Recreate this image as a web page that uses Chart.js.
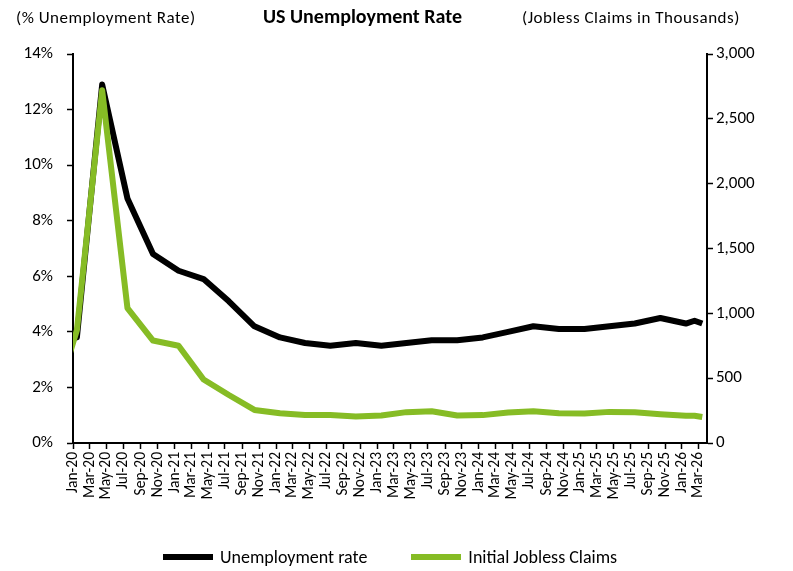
<!DOCTYPE html>
<html>
<head>
<meta charset="UTF-8">
<title>US Unemployment Rate</title>
<script src="https://cdn.jsdelivr.net/npm/chart.js@4.4.1/dist/chart.umd.min.js"></script>
<style>
  body { margin: 0; background: #fff; }
  .contenedor { position: relative; width: 793px; height: 571px; color: #000;
                font-family: Carlito, "Liberation Sans Narrow", Lato, "Open Sans", sans-serif; }
  .encabezado { position: absolute; top: 7px; font-size: 17px; letter-spacing: 0.5px; white-space: nowrap; }
  .titulo { position: absolute; top: 4px; left: 263px; font-size: 20px; font-weight: bold; white-space: nowrap; }
  .leyenda { position: absolute; top: 546px; left: 163px; display: flex; font-size: 18px; white-space: nowrap; }
  .item { display: flex; align-items: center; margin-right: 44px; }
  .muestra { width: 50px; height: 6px; margin-right: 7px; }
</style>
</head>
<body>
<div class="contenedor">
  <canvas id="grafica" width="793" height="571"></canvas>
  <div class="encabezado" style="left:16px">(% Unemployment Rate)</div>
  <div class="titulo">US Unemployment Rate</div>
  <div class="encabezado" style="left:522px">(Jobless Claims in Thousands)</div>
  <div class="leyenda" id="leyenda"></div>
</div>

<script>
  // etiquetas del eje x (cada dos meses)
  const tickLabels = ['Jan-20','Mar-20','May-20','Jul-20','Sep-20','Nov-20',
                      'Jan-21','Mar-21','May-21','Jul-21','Sep-21','Nov-21',
                      'Jan-22','Mar-22','May-22','Jul-22','Sep-22','Nov-22',
                      'Jan-23','Mar-23','May-23','Jul-23','Sep-23','Nov-23',
                      'Jan-24','Mar-24','May-24','Jul-24','Sep-24','Nov-24',
                      'Jan-25','Mar-25','May-25','Jul-25','Sep-25','Nov-25',
                      'Jan-26','Mar-26'];

  // fechas de cada dato (trimestral, luego mensual en 2026)
  const fechas = ['2019-10-15',
                  '2020-01-15','2020-04-15','2020-07-15','2020-10-15',
                  '2021-01-15','2021-04-15','2021-07-15','2021-10-15',
                  '2022-01-15','2022-04-15','2022-07-15','2022-10-15',
                  '2023-01-15','2023-04-15','2023-07-15','2023-10-15',
                  '2024-01-15','2024-04-15','2024-07-15','2024-10-15',
                  '2025-01-15','2025-04-15','2025-07-15','2025-10-15',
                  '2026-01-15','2026-02-15','2026-03-15'];

  // tasa de desempleo (%)
  const tasaDesempleo = [3.6,
                         3.8, 12.9, 8.8, 6.8,
                         6.2, 5.9, 5.1, 4.2,
                         3.8, 3.6, 3.5, 3.6,
                         3.5, 3.6, 3.7, 3.7,
                         3.8, 4.0, 4.2, 4.1,
                         4.1, 4.2, 4.3, 4.5,
                         4.3, 4.4, 4.3];

  // solicitudes iniciales de desempleo (miles)
  const solicitudes = [220,
                       870, 2720, 1040, 790,
                       750, 490, 370, 255,
                       229, 216, 216, 205,
                       212, 238, 245, 212,
                       215, 235, 245, 230,
                       228, 240, 237, 222,
                       210, 210, 200];

  const series = ['Unemployment rate', 'Initial Jobless Claims'];
  const colores = ['#000000', '#86bc25'];

  const inicioEje = '2020-01-01';
  const finEje = '2026-04-01';

  const meses = ['Jan','Feb','Mar','Apr','May','Jun','Jul','Aug','Sep','Oct','Nov','Dec'];
  const base = Date.UTC(2020, 0, 1);
  function dia(iso) {
      const p = iso.split('-').map(Number);
      return (Date.UTC(p[0], p[1] - 1, p[2]) - base) / 864e5;
  }
  function diaEtiqueta(lbl) {
      return (Date.UTC(2000 + Number(lbl.slice(4)), meses.indexOf(lbl.slice(0, 3)), 1) - base) / 864e5;
  }

  Chart.defaults.font.family = 'Carlito, "Liberation Sans Narrow", Lato, "Open Sans", sans-serif';
  Chart.defaults.color = '#000';

  function puntos(valores) {
      return valores.map((v, i) => ({x: dia(fechas[i]), y: v}));
  }

  const marcas = {drawOnChartArea: false, tickLength: 6, tickWidth: 1.5, tickColor: '#000'};
  const borde = {color: '#000', width: 2};

  const ctx = document.getElementById('grafica').getContext('2d');

  new Chart(ctx, {
      type: 'line',
      data: {
          datasets: [{
                  label: series[0],
                  data: puntos(tasaDesempleo),
                  yAxisID: 'y',
                  borderColor: colores[0],
                  borderWidth: 6,
                  borderJoinStyle: 'round',
                  pointRadius: 0,
                  order: 1
              }, {
                  label: series[1],
                  data: puntos(solicitudes),
                  yAxisID: 'y1',
                  borderColor: colores[1],
                  borderWidth: 6,
                  borderJoinStyle: 'round',
                  pointRadius: 0,
                  order: 0
              }]
      },
      options: {
          responsive: false,
          animation: false,
          layout: {padding: {top: 54, left: 0, right: 0, bottom: 0}},
          scales: {
              x: {
                  type: 'linear',
                  min: dia(inicioEje),
                  max: dia(finEje),
                  afterBuildTicks: axis => {
                      axis.ticks = tickLabels.map(l => ({value: diaEtiqueta(l)}));
                  },
                  afterFit: axis => { axis.height = 128; },
                  ticks: {
                      autoSkip: false,
                      minRotation: 90,
                      maxRotation: 90,
                      padding: 3,
                      font: {size: 15.5},
                      callback: (v, i) => tickLabels[i]
                  },
                  grid: marcas,
                  border: borde
              },
              y: {
                  position: 'left',
                  min: 0,
                  max: 14,
                  afterFit: axis => { axis.width = 73; },
                  ticks: {stepSize: 2, padding: 14, font: {size: 17}, callback: v => v + '%'},
                  grid: marcas,
                  border: borde
              },
              y1: {
                  position: 'right',
                  min: 0,
                  max: 3000,
                  afterFit: axis => { axis.width = 86; },
                  ticks: {stepSize: 500, padding: 3, font: {size: 17},
                      callback: v => v.toLocaleString('en-US')},
                  grid: marcas,
                  border: borde
              }
          },
          plugins: {
              legend: {display: false},
              tooltip: {enabled: false}
          }
      }
  });

  // leyenda en HTML debajo del gráfico
  const leyenda = document.getElementById('leyenda');
  series.forEach((nombre, i) => {
      const item = document.createElement('div');
      item.className = 'item';
      item.innerHTML = '<span class="muestra" style="background:' + colores[i] + '"></span>' + nombre;
      leyenda.appendChild(item);
  });
</script>
</body>
</html>
